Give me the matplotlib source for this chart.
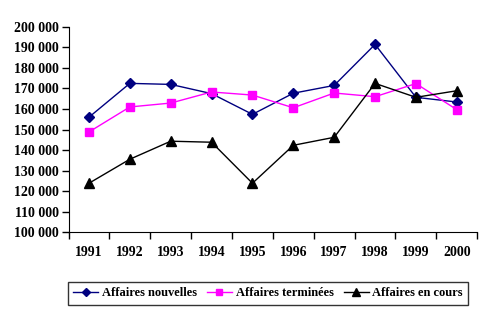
import numpy as np
import matplotlib
matplotlib.use('Agg')
import matplotlib.pyplot as plt
from matplotlib.ticker import FuncFormatter

years = ['1991', '1992', '1993', '1994', '1995', '1996', '1997', '1998', '1999', '2000']
nouvelles = [156000, 172500, 172000, 167500, 157400, 167700, 171500, 191500, 165700, 163400]
terminees = [148800, 161000, 162900, 168300, 166800, 160600, 167800, 166000, 172400, 159700]
en_cours = [123800, 135500, 144300, 143800, 123800, 142300, 146200, 172500, 165700, 168900]

plt.rcParams['font.family'] = ['Liberation Serif', 'DejaVu Serif']
plt.rcParams['font.weight'] = 'bold'

fig = plt.figure(figsize=(4.93, 3.25), dpi=100)
ax = fig.add_axes([0.139, 0.286, 0.829, 0.631])

x = np.arange(1, len(years) + 1)
ax.plot(x, nouvelles, color='#000080', lw=1, marker='D', ms=5, label='Affaires nouvelles')
ax.plot(x, terminees, color='#FF00FF', lw=1, marker='s', ms=6, label='Affaires terminées')
ax.plot(x, en_cours, color='black', lw=1, marker='^', ms=7, label='Affaires en cours')

ax.set_xlim(0.5, len(years) + 0.5)
ax.set_ylim(100000, 200000)
ax.set_yticks(np.arange(100000, 200001, 10000))
ax.yaxis.set_major_formatter(FuncFormatter(lambda v, p: '{:,}'.format(int(v)).replace(',', ' ')))

# ticks between the categories, labels in the middle
ax.set_xticks(np.arange(0.5, len(years) + 1, 1))
ax.set_xticklabels([])
ax.set_xticks(x, minor=True)
ax.set_xticklabels(years, minor=True)
ax.tick_params(axis='x', which='minor', length=0, pad=10, labelsize=10)
ax.tick_params(axis='x', which='major', length=5, width=1)
ax.tick_params(axis='y', length=5, width=1, labelsize=10, pad=2)

for s in ['top', 'right']:
    ax.spines[s].set_visible(False)

leg = fig.legend(loc='center', bbox_to_anchor=(268 / 493, 1 - 293.5 / 325),
                 ncol=3, frameon=True, fancybox=False, edgecolor='black',
                 fontsize=9, handlelength=2.0, handletextpad=0.3, columnspacing=0.8,
                 borderpad=0.45, markerscale=0.75)
leg.get_frame().set_linewidth(1)

fig.savefig('out.png', dpi=100)
